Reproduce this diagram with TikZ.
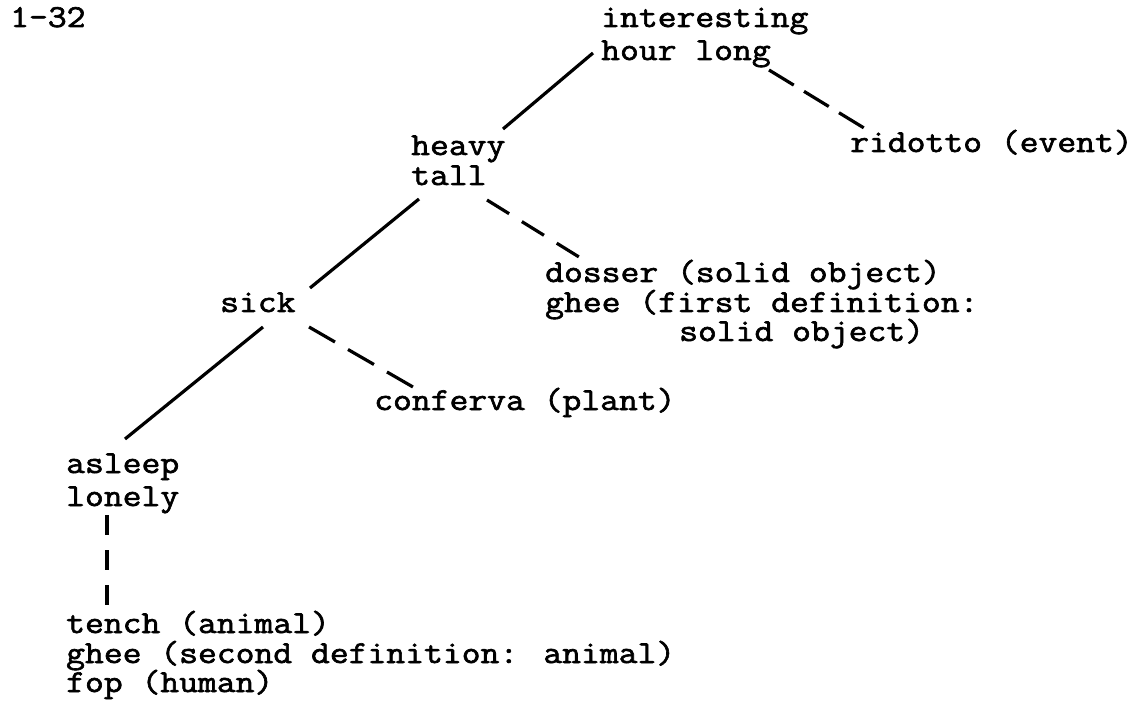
\documentclass[tikz,border=0pt]{standalone}
\usepackage{fontspec}
\newfontfamily\cour{Latin Modern Mono}[FakeStretch=1.143, FakeBold=2]
\begin{document}
\begin{tikzpicture}[x=1pt,y=-1pt,
  txt/.style={font=\cour\fontsize{32}{32}\selectfont, inner sep=0pt, anchor=base west},
  solidlink/.style={line width=3.2pt},
  dashlink/.style={line width=3.2pt}]
\useasboundingbox[fill=white] (0,0) rectangle (1141,703);
% labels
\node[txt] (fig) at (10,27) {1-32};
\node[txt] (int) at (601,27) {interesting};
\node[txt] (hour) at (601,60) {hour long};
\node[txt] (heavy) at (411,155) {heavy};
\node[txt] (tall) at (411,185) {tall};
\node[txt] (rid) at (850,152) {ridotto (event)};
\node[txt] (dos) at (545,282) {dosser (solid object)};
\node[txt] (ghA) at (545,312) {ghee (first definition:};
\node[txt] (ghAb) at (679,341) {solid object)};
\node[txt] (sick) at (220,312) {sick};
\node[txt] (conf) at (374,410) {conferva (plant)};
\node[txt] (asl) at (66,473) {asleep};
\node[txt] (lon) at (66,506) {lonely};
\node[txt] (tench) at (66,633) {tench (animal)};
\node[txt] (ghB) at (66,663) {ghee (second definition: animal)};
\node[txt] (fop) at (66,692) {fop (human)};
% connector end points
\coordinate (hourSW) at (593,53);
\coordinate (heavyNE) at (503,129);
\coordinate (hourSE) at (769,70);
\coordinate (ridNW) at (864,128);
\coordinate (tallSW) at (419,199);
\coordinate (sickNE) at (310,288);
\coordinate (tallSE) at (487,200);
\coordinate (dosNW) at (579,257);
\coordinate (sickSW) at (263,327);
\coordinate (aslNE) at (125,439);
\coordinate (sickSE) at (309,327);
\coordinate (confNW) at (413,387);
\coordinate (lonS) at (107,515);
\coordinate (tenchN) at (107,605);
% connectors
\draw[solidlink] (hourSW) -- (heavyNE);
\draw[solidlink] (tallSW) -- (sickNE);
\draw[solidlink] (sickSW) -- (aslNE);
\draw[dashlink, dash pattern=on 29pt off 12pt] (hourSE) -- (ridNW);
\draw[dashlink, dash pattern=on 26pt off 15pt] (tallSE) -- (dosNW);
\draw[dashlink, dash pattern=on 30pt off 15pt] (sickSE) -- (confNW);
\draw[dashlink, dash pattern=on 20pt off 15pt] (lonS) -- (tenchN);
\end{tikzpicture}
\end{document}
